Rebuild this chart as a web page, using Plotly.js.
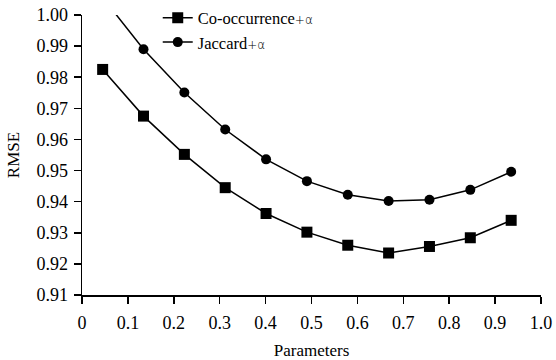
<!DOCTYPE html>
<html>
<head>
<meta charset="utf-8">
<script src="https://cdn.plot.ly/plotly-3.0.1.min.js"></script>
<style>html,body{margin:0;padding:0;background:#fff}#chart{width:556px;height:360px}</style>
</head>
<body>
<div id="chart"></div>
<script>
const params = [0.045, 0.134, 0.223, 0.312, 0.401, 0.490, 0.579, 0.668, 0.757, 0.846, 0.935];
const cooccurrence = [0.9825, 0.9675, 0.9552, 0.9445, 0.9362, 0.9302, 0.9260, 0.9235, 0.9256, 0.9284, 0.9340];
const jaccard = [1.0056, 0.9890, 0.9751, 0.9632, 0.9536, 0.9466, 0.9422, 0.9402, 0.9406, 0.9438, 0.9496];
const xTicks = [0, 0.1, 0.2, 0.3, 0.4, 0.5, 0.6, 0.7, 0.8, 0.9, 1.0];
const xTickText = ['0', '0.1', '0.2', '0.3', '0.4', '0.5', '0.6', '0.7', '0.8', '0.9', '1.0'];
const yTicks = [0.91, 0.92, 0.93, 0.94, 0.95, 0.96, 0.97, 0.98, 0.99, 1.00];
const yTickText = ['0.91', '0.92', '0.93', '0.94', '0.95', '0.96', '0.97', '0.98', '0.99', '1.00'];
const alpha = "<span style='font-family:DejaVu Sans;font-size:12px;font-weight:300'>+α</span>";

const serif = 'Liberation Serif';
const traces = [
  {x: params, y: cooccurrence, name: 'Co-occurrence' + alpha, mode: 'lines+markers',
   line: {color: '#000', width: 1.5}, marker: {symbol: 'square', size: 11, color: '#000'}, cliponaxis: true},
  {x: params, y: jaccard, name: 'Jaccard' + alpha, mode: 'lines+markers',
   line: {color: '#000', width: 1.5}, marker: {symbol: 'circle', size: 10, color: '#000'}, cliponaxis: true}
];
const axisCommon = {
  showgrid: false, zeroline: false, showline: true, linecolor: '#000', linewidth: 1.5,
  ticks: 'outside', ticklen: 7, tickwidth: 1.5, tickcolor: '#000',
  tickfont: {family: serif, size: 18, color: '#000'}, tickmode: 'array', automargin: false
};
const layout = {
  width: 556, height: 360,
  margin: {l: 82, r: 15, t: 15, b: 65, autoexpand: false},
  paper_bgcolor: '#fff', plot_bgcolor: '#fff',
  font: {family: serif, size: 16, color: '#000'},
  showlegend: true,
  legend: {x: 0.165, y: 1.052, xanchor: 'left', yanchor: 'top', bgcolor: 'rgba(0,0,0,0)',
           font: {family: serif, size: 16.5, color: '#000'}, tracegroupgap: 0},
  xaxis: Object.assign({}, axisCommon, {range: [0, 1.0], tickvals: xTicks, ticktext: xTickText,
    ticklabelstandoff: 4,
    title: {text: 'Parameters', font: {family: serif, size: 17, color: '#000'}, standoff: 12}}),
  yaxis: Object.assign({}, axisCommon, {range: [0.91, 1.00], tickvals: yTicks, ticktext: yTickText,
    ticklabelstandoff: 2,
    title: {text: 'RMSE', font: {family: serif, size: 17, color: '#000'}, standoff: 12}})
};
Plotly.newPlot('chart', traces, layout, {displayModeBar: false, staticPlot: true});
</script>
</body>
</html>
